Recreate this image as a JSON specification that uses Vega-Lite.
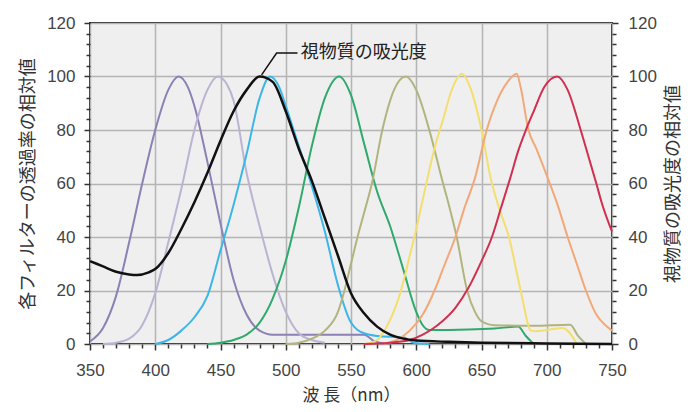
{
  "$schema": "https://vega.github.io/schema/vega-lite/v6.json",
  "width": 522,
  "height": 321,
  "autosize": {"type": "none"},
  "padding": {"left": 90, "top": 23, "right": 79, "bottom": 68},
  "background": "white",
  "config": {
    "view": {"fill": "#efefef", "stroke": "#222222", "strokeWidth": 2},
    "axis": {
      "labelFont": "Liberation Sans",
      "labelFontSize": 17,
      "labelColor": "#444444",
      "labelFlush": false,
      "titleFont": "Noto Sans CJK JP",
      "titleFontSize": 18,
      "titleFontWeight": "normal",
      "titleColor": "#333333",
      "tickColor": "#333333",
      "tickWidth": 1.5,
      "domain": false
    }
  },
  "datasets": {
    "filters": [
      {"nm": 350, "v": 1, "s": "f1"}, {"nm": 360, "v": 6, "s": "f1"}, {"nm": 370, "v": 18, "s": "f1"}, {"nm": 380, "v": 38, "s": "f1"}, {"nm": 390, "v": 60, "s": "f1"}, {"nm": 400, "v": 80, "s": "f1"}, {"nm": 410, "v": 95, "s": "f1"}, {"nm": 418, "v": 100, "s": "f1"}, {"nm": 425, "v": 96, "s": "f1"}, {"nm": 430, "v": 89, "s": "f1"}, {"nm": 440, "v": 68, "s": "f1"}, {"nm": 450, "v": 45, "s": "f1"}, {"nm": 460, "v": 24, "s": "f1"}, {"nm": 470, "v": 11, "s": "f1"}, {"nm": 480, "v": 5, "s": "f1"}, {"nm": 490, "v": 3.5, "s": "f1"}, {"nm": 560, "v": 3.5, "s": "f1"}, {"nm": 568, "v": 1, "s": "f1"}, {"nm": 580, "v": 0, "s": "f1"},
      {"nm": 360, "v": 0, "s": "f2"}, {"nm": 370, "v": 0.5, "s": "f2"}, {"nm": 380, "v": 2, "s": "f2"}, {"nm": 390, "v": 7, "s": "f2"}, {"nm": 400, "v": 19, "s": "f2"}, {"nm": 410, "v": 38, "s": "f2"}, {"nm": 420, "v": 58, "s": "f2"}, {"nm": 430, "v": 80, "s": "f2"}, {"nm": 440, "v": 95, "s": "f2"}, {"nm": 448, "v": 100, "s": "f2"}, {"nm": 455, "v": 97, "s": "f2"}, {"nm": 460, "v": 91, "s": "f2"}, {"nm": 470, "v": 64, "s": "f2"}, {"nm": 480, "v": 44, "s": "f2"}, {"nm": 490, "v": 26, "s": "f2"}, {"nm": 500, "v": 12, "s": "f2"}, {"nm": 510, "v": 4, "s": "f2"}, {"nm": 520, "v": 1.5, "s": "f2"}, {"nm": 530, "v": 0.5, "s": "f2"},
      {"nm": 400, "v": 0, "s": "f3"}, {"nm": 410, "v": 1.5, "s": "f3"}, {"nm": 420, "v": 5, "s": "f3"}, {"nm": 430, "v": 10, "s": "f3"}, {"nm": 440, "v": 18, "s": "f3"}, {"nm": 450, "v": 35, "s": "f3"}, {"nm": 460, "v": 52, "s": "f3"}, {"nm": 470, "v": 71, "s": "f3"}, {"nm": 480, "v": 92, "s": "f3"}, {"nm": 488, "v": 100, "s": "f3"}, {"nm": 495, "v": 96, "s": "f3"}, {"nm": 500, "v": 89, "s": "f3"}, {"nm": 510, "v": 74, "s": "f3"}, {"nm": 520, "v": 59, "s": "f3"}, {"nm": 530, "v": 42, "s": "f3"}, {"nm": 540, "v": 22, "s": "f3"}, {"nm": 550, "v": 8, "s": "f3"}, {"nm": 560, "v": 4, "s": "f3"}, {"nm": 570, "v": 3, "s": "f3"}, {"nm": 590, "v": 2.5, "s": "f3"}, {"nm": 598, "v": 0.5, "s": "f3"}, {"nm": 610, "v": 0, "s": "f3"},
      {"nm": 440, "v": 0, "s": "f4"}, {"nm": 450, "v": 0.5, "s": "f4"}, {"nm": 460, "v": 1.5, "s": "f4"}, {"nm": 470, "v": 3.5, "s": "f4"}, {"nm": 480, "v": 8, "s": "f4"}, {"nm": 490, "v": 17, "s": "f4"}, {"nm": 500, "v": 31, "s": "f4"}, {"nm": 510, "v": 51, "s": "f4"}, {"nm": 520, "v": 74, "s": "f4"}, {"nm": 530, "v": 92, "s": "f4"}, {"nm": 541, "v": 100, "s": "f4"}, {"nm": 550, "v": 93, "s": "f4"}, {"nm": 560, "v": 75, "s": "f4"}, {"nm": 570, "v": 57, "s": "f4"}, {"nm": 580, "v": 44, "s": "f4"}, {"nm": 590, "v": 28, "s": "f4"}, {"nm": 600, "v": 12, "s": "f4"}, {"nm": 605, "v": 7, "s": "f4"}, {"nm": 610, "v": 5.2, "s": "f4"}, {"nm": 640, "v": 5.4, "s": "f4"}, {"nm": 660, "v": 5.8, "s": "f4"}, {"nm": 678, "v": 6.5, "s": "f4"}, {"nm": 684, "v": 3, "s": "f4"}, {"nm": 690, "v": 0, "s": "f4"},
      {"nm": 500, "v": 0, "s": "f5"}, {"nm": 510, "v": 0.5, "s": "f5"}, {"nm": 520, "v": 2, "s": "f5"}, {"nm": 530, "v": 5, "s": "f5"}, {"nm": 540, "v": 12, "s": "f5"}, {"nm": 545, "v": 20, "s": "f5"}, {"nm": 550, "v": 30, "s": "f5"}, {"nm": 555, "v": 40, "s": "f5"}, {"nm": 560, "v": 49, "s": "f5"}, {"nm": 566, "v": 60, "s": "f5"}, {"nm": 574, "v": 80, "s": "f5"}, {"nm": 583, "v": 95, "s": "f5"}, {"nm": 592, "v": 100, "s": "f5"}, {"nm": 600, "v": 95, "s": "f5"}, {"nm": 610, "v": 80, "s": "f5"}, {"nm": 620, "v": 61, "s": "f5"}, {"nm": 625, "v": 52, "s": "f5"}, {"nm": 631, "v": 40, "s": "f5"}, {"nm": 639, "v": 20, "s": "f5"}, {"nm": 645, "v": 12, "s": "f5"}, {"nm": 650, "v": 8.5, "s": "f5"}, {"nm": 660, "v": 7, "s": "f5"}, {"nm": 690, "v": 6.8, "s": "f5"}, {"nm": 718, "v": 7.2, "s": "f5"}, {"nm": 724, "v": 3, "s": "f5"}, {"nm": 730, "v": 0, "s": "f5"},
      {"nm": 560, "v": 0, "s": "f6"}, {"nm": 570, "v": 1.5, "s": "f6"}, {"nm": 575, "v": 4.5, "s": "f6"}, {"nm": 580, "v": 9, "s": "f6"}, {"nm": 585, "v": 15, "s": "f6"}, {"nm": 590, "v": 23, "s": "f6"}, {"nm": 595, "v": 33, "s": "f6"}, {"nm": 600, "v": 43, "s": "f6"}, {"nm": 605, "v": 54, "s": "f6"}, {"nm": 610, "v": 65, "s": "f6"}, {"nm": 615, "v": 75, "s": "f6"}, {"nm": 620, "v": 83, "s": "f6"}, {"nm": 628, "v": 96, "s": "f6"}, {"nm": 635, "v": 101, "s": "f6"}, {"nm": 642, "v": 95, "s": "f6"}, {"nm": 650, "v": 80, "s": "f6"}, {"nm": 657, "v": 62, "s": "f6"}, {"nm": 664, "v": 50, "s": "f6"}, {"nm": 671, "v": 40, "s": "f6"}, {"nm": 680, "v": 20, "s": "f6"}, {"nm": 688, "v": 5, "s": "f6"}, {"nm": 692, "v": 4.8, "s": "f6"}, {"nm": 712, "v": 6, "s": "f6"}, {"nm": 716, "v": 5, "s": "f6"}, {"nm": 723, "v": 0, "s": "f6"},
      {"nm": 575, "v": 0, "s": "f7"}, {"nm": 585, "v": 1.5, "s": "f7"}, {"nm": 595, "v": 5, "s": "f7"}, {"nm": 605, "v": 11, "s": "f7"}, {"nm": 614, "v": 20, "s": "f7"}, {"nm": 622, "v": 30, "s": "f7"}, {"nm": 630, "v": 40, "s": "f7"}, {"nm": 637, "v": 51, "s": "f7"}, {"nm": 645, "v": 62, "s": "f7"}, {"nm": 654, "v": 80, "s": "f7"}, {"nm": 662, "v": 91, "s": "f7"}, {"nm": 670, "v": 98, "s": "f7"}, {"nm": 677, "v": 101, "s": "f7"}, {"nm": 680, "v": 96, "s": "f7"}, {"nm": 686, "v": 80, "s": "f7"}, {"nm": 692, "v": 73, "s": "f7"}, {"nm": 700, "v": 63, "s": "f7"}, {"nm": 709, "v": 51, "s": "f7"}, {"nm": 716, "v": 40, "s": "f7"}, {"nm": 723, "v": 30, "s": "f7"}, {"nm": 730, "v": 20, "s": "f7"}, {"nm": 738, "v": 11, "s": "f7"}, {"nm": 745, "v": 7, "s": "f7"}, {"nm": 750, "v": 5, "s": "f7"},
      {"nm": 560, "v": 0, "s": "f8"}, {"nm": 580, "v": 0.5, "s": "f8"}, {"nm": 595, "v": 1.5, "s": "f8"}, {"nm": 605, "v": 3.5, "s": "f8"}, {"nm": 612, "v": 5.5, "s": "f8"}, {"nm": 620, "v": 8.5, "s": "f8"}, {"nm": 630, "v": 13.5, "s": "f8"}, {"nm": 640, "v": 21, "s": "f8"}, {"nm": 650, "v": 31, "s": "f8"}, {"nm": 658, "v": 40, "s": "f8"}, {"nm": 665, "v": 51, "s": "f8"}, {"nm": 672, "v": 62, "s": "f8"}, {"nm": 678, "v": 72, "s": "f8"}, {"nm": 684, "v": 80, "s": "f8"}, {"nm": 690, "v": 87, "s": "f8"}, {"nm": 698, "v": 96, "s": "f8"}, {"nm": 708, "v": 100, "s": "f8"}, {"nm": 716, "v": 95, "s": "f8"}, {"nm": 726, "v": 80, "s": "f8"}, {"nm": 732, "v": 70, "s": "f8"}, {"nm": 738, "v": 60, "s": "f8"}, {"nm": 742, "v": 53, "s": "f8"}, {"nm": 750, "v": 42, "s": "f8"}
    ],
    "black": [
      {"nm": 350, "v": 31}, {"nm": 360, "v": 29}, {"nm": 370, "v": 27}, {"nm": 380, "v": 26}, {"nm": 386, "v": 25.8}, {"nm": 395, "v": 26.8}, {"nm": 400, "v": 28}, {"nm": 410, "v": 34}, {"nm": 420, "v": 43}, {"nm": 430, "v": 53}, {"nm": 440, "v": 64}, {"nm": 450, "v": 76}, {"nm": 460, "v": 87}, {"nm": 470, "v": 95}, {"nm": 480, "v": 100}, {"nm": 490, "v": 98}, {"nm": 500, "v": 87}, {"nm": 510, "v": 73}, {"nm": 520, "v": 61}, {"nm": 530, "v": 47}, {"nm": 540, "v": 33}, {"nm": 550, "v": 19}, {"nm": 560, "v": 11.5}, {"nm": 570, "v": 6.5}, {"nm": 580, "v": 3.5}, {"nm": 590, "v": 2}, {"nm": 600, "v": 1.3}, {"nm": 625, "v": 0.8}, {"nm": 650, "v": 0.5}, {"nm": 700, "v": 0.2}, {"nm": 750, "v": 0}
    ],
    "leader": [
      {"nm": 481.5, "v": 100.6}, {"nm": 493, "v": 108.8}, {"nm": 509, "v": 108.8}
    ],
    "label": [
      {"nm": 511.5, "v": 108.8, "t": "視物質の吸光度"}
    ]
  },
  "layer": [
    {
      "data": {"name": "filters"},
      "mark": {"type": "line", "strokeWidth": 2, "interpolate": "monotone"},
      "encoding": {
        "x": {"field": "nm", "type": "quantitative", "scale": {"domain": [350, 750], "nice": false},
          "axis": {"orient": "bottom", "values": [350, 400, 450, 500, 550, 600, 650, 700, 750], "tickSize": 6, "labelPadding": 12, "grid": true, "gridColor": "#b4b4b4", "gridWidth": 1.5, "title": "波 長（nm）", "titleFontSize": 17, "titlePadding": 9}},
        "y": {"field": "v", "type": "quantitative", "scale": {"domain": [0, 120], "nice": false},
          "axis": {"orient": "left", "values": [0, 20, 40, 60, 80, 100, 120], "tickSize": 6, "labelPadding": 9, "grid": true, "gridColor": "#b4b4b4", "gridWidth": 1.5, "title": "各フィルターの透過率の相対値", "titlePadding": 9}},
        "color": {"field": "s", "type": "nominal", "legend": null,
          "scale": {"domain": ["f1", "f2", "f3", "f4", "f5", "f6", "f7", "f8"],
            "range": ["#8c80b4", "#bab3d2", "#3cb6e8", "#2fa96c", "#b2b47e", "#f2df6e", "#f2a878", "#d0304f"]}}
      }
    },
    {
      "data": {"name": "black"},
      "mark": {"type": "line", "strokeWidth": 2.5, "color": "#111111", "interpolate": "monotone"},
      "encoding": {
        "x": {"field": "nm", "type": "quantitative",
          "axis": {"orient": "bottom", "values": [360, 370, 380, 390, 410, 420, 430, 440, 460, 470, 480, 490, 510, 520, 530, 540, 560, 570, 580, 590, 610, 620, 630, 640, 660, 670, 680, 690, 710, 720, 730, 740], "tickSize": 4, "labels": false, "grid": false, "title": null}},
        "y": {"field": "v", "type": "quantitative",
          "axis": {"orient": "right", "values": [0, 20, 40, 60, 80, 100, 120], "tickSize": 6, "labelPadding": 10, "grid": false, "title": "視物質の吸光度の相対値", "titleAngle": -90, "titleBaseline": "top", "titlePadding": 8}}
      }
    },
    {
      "data": {"name": "leader"},
      "mark": {"type": "line", "strokeWidth": 1.5, "color": "#111111"},
      "encoding": {
        "x": {"field": "nm", "type": "quantitative", "axis": null},
        "y": {"field": "v", "type": "quantitative",
          "axis": {"orient": "left", "values": [4, 8, 12, 16, 24, 28, 32, 36, 44, 48, 52, 56, 64, 68, 72, 76, 84, 88, 92, 96, 104, 108, 112, 116], "tickSize": 4, "labels": false, "grid": false, "title": null}}
      }
    },
    {
      "data": {"name": "label"},
      "mark": {"type": "text", "align": "left", "baseline": "middle", "font": "Noto Sans CJK JP", "fontSize": 18, "color": "#222222"},
      "encoding": {
        "x": {"field": "nm", "type": "quantitative", "axis": null},
        "y": {"field": "v", "type": "quantitative",
          "axis": {"orient": "right", "values": [4, 8, 12, 16, 24, 28, 32, 36, 44, 48, 52, 56, 64, 68, 72, 76, 84, 88, 92, 96, 104, 108, 112, 116], "tickSize": 4, "labels": false, "grid": false, "title": null}},
        "text": {"field": "t"}
      }
    }
  ],
  "resolve": {"axis": {"x": "independent", "y": "independent"}}
}
